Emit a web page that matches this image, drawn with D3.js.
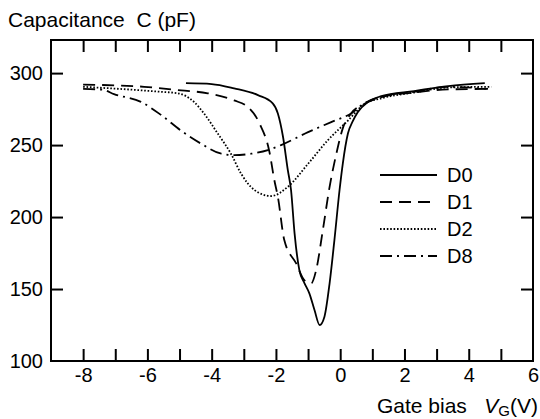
<!doctype html>
<html lang="en">
<head>
<meta charset="utf-8">
<title>Capacitance vs gate bias</title>
<script src="https://cdn.jsdelivr.net/npm/d3@7"></script>
<style>
  body { margin: 0; background: #fff; }
  svg text { font-family: "Liberation Sans", Arial, sans-serif; fill: #000; }
  .frame { fill: none; stroke: #000; stroke-width: 2; }
  .curve { fill: none; stroke: #000; stroke-width: 1.8; }
</style>
</head>
<body>
<svg id="chart" width="540" height="419"></svg>
<script>
// values: gate bias (V) and capacitance (pF)
var D0_V = [-4.8, -4.0, -3.3, -2.56, -2.1, -1.94, -1.78, -1.63, -1.53, -1.42, -1.27, -1.11, -0.96, -0.8, -0.64, -0.49, -0.33, -0.18, -0.02, 0.08, 0.24, 0.4, 0.55, 0.86, 1.28, 2.3, 3.36, 4.5];
var D0_C = [293, 292.4, 289.4, 284.7, 279, 272, 255.8, 232.6, 218.8, 188.7, 163, 154, 147, 135.4, 125, 130.8, 154, 184, 218.8, 237, 258, 267, 273, 280, 284, 287.5, 291, 293];

var D1_V = [-8, -6.1, -4.95, -4.12, -3.3, -2.88, -2.51, -2.2, -2.05, -1.94, -1.74, -1.37, -1.11, -0.9, -0.75, -0.54, -0.33, -0.12, 0.08, 0.34, 0.75, 1.28, 2.3, 3.36, 4.6];
var D1_C = [292, 290.5, 288, 286, 281, 276.6, 265, 245, 225.7, 214, 184, 167.8, 156, 154, 163, 191, 221, 244, 261.6, 272, 278.5, 283.3, 286.5, 288.7, 289];

var D2_V = [-8, -5.58, -5.06, -4.55, -4.24, -3.81, -3.4, -3.08, -2.67, -2.15, -1.63, -1.0, -0.38, 0.24, 0.75, 1.28, 2.3, 3.36, 4.7];
var D2_C = [290.5, 287, 286, 280, 272, 258, 244, 230, 218.8, 214.6, 221, 237, 253.5, 267, 278.5, 282.5, 286.5, 290, 290.5];

var D8_V = [-8, -7.4, -7.04, -6.2, -5.58, -4.95, -4.33, -3.7, -3.3, -2.77, -2.25, -1.84, -1.0, -0.28, 0.34, 0.75, 1.28, 2.3, 3.36, 4.6];
var D8_C = [289, 288.5, 285.4, 280, 271, 260, 251, 244, 243, 244, 246.5, 250, 259, 266, 272, 279, 283.5, 287, 290.5, 289];

var seriesNames = ["D0", "D1", "D2", "D8"];
var xTicks = [-8, -7, -6, -5, -4, -3, -2, -1, 0, 1, 2, 3, 4, 5];
var xLabels = [-8, -6, -4, -2, 0, 2, 4, 6];
var yTicks = [150, 200, 250, 300];
var yLabels = [100, 150, 200, 250, 300];

var svg = d3.select("#chart");
var plotL = 51, plotR = 533, plotT = 40, plotB = 361;
var tick = 12, fs = 20;

var x = d3.scaleLinear().domain([-9, 6]).range([plotL, plotR]);
var y = d3.scaleLinear().domain([100, 323]).range([plotB, plotT]);

// inward ticks on all four sides
svg.append("g").attr("transform", "translate(0," + plotB + ")")
  .call(d3.axisTop(x).tickValues(xTicks).tickSize(tick).tickFormat(""));
svg.append("g").attr("transform", "translate(0," + plotT + ")")
  .call(d3.axisBottom(x).tickValues(xTicks).tickSize(tick).tickFormat(""));
svg.append("g").attr("transform", "translate(" + plotL + ",0)")
  .call(d3.axisRight(y).tickValues(yTicks).tickSize(tick).tickFormat(""));
svg.append("g").attr("transform", "translate(" + plotR + ",0)")
  .call(d3.axisLeft(y).tickValues(yTicks).tickSize(tick).tickFormat(""));

// tick labels
svg.append("g").attr("class", "xlab").attr("transform", "translate(0," + plotB + ")")
  .call(d3.axisBottom(x).tickValues(xLabels).tickSize(0).tickPadding(7).tickFormat(d3.format("d")));
svg.append("g").attr("class", "ylab").attr("transform", "translate(" + plotL + ",0)")
  .call(d3.axisLeft(y).tickValues(yLabels).tickSize(0).tickPadding(8));

svg.selectAll("path.domain").remove();
svg.selectAll("g.tick line").attr("stroke", "#000").attr("stroke-width", 2);
svg.selectAll(".xlab text, .ylab text")
  .attr("font-family", "Liberation Sans, Arial, sans-serif")
  .attr("font-size", fs).attr("fill", "#000");
svg.selectAll(".xlab text").text(function(d) { return d < 0 ? "-" + (-d) : d; });

svg.append("rect").attr("class", "frame")
  .attr("x", plotL).attr("y", plotT).attr("width", plotR - plotL).attr("height", plotB - plotT);

// curves
var dashes = { D0: null, D1: "12,7", D2: "1.6,1.8", D8: "12,5,2,5" };
var allData = {
  D0: d3.zip(D0_V, D0_C),
  D1: d3.zip(D1_V, D1_C),
  D2: d3.zip(D2_V, D2_C),
  D8: d3.zip(D8_V, D8_C)
};
var line = d3.line()
  .x(function(d) { return x(d[0]); })
  .y(function(d) { return y(d[1]); })
  .curve(d3.curveMonotoneX);

seriesNames.forEach(function(name) {
  svg.append("path").attr("class", "curve")
    .attr("d", line(allData[name]))
    .attr("stroke-dasharray", dashes[name]);
});

// legend
var lg = svg.append("g");
seriesNames.forEach(function(name, i) {
  var ly = 175 + i * 27;
  lg.append("line").attr("class", "curve")
    .attr("x1", 380).attr("x2", 437).attr("y1", ly).attr("y2", ly)
    .attr("stroke-dasharray", dashes[name]);
  lg.append("text").attr("x", 447).attr("y", ly).attr("dy", "0.36em")
    .attr("font-size", fs).text(name);
});

// axis titles
svg.append("text").attr("x", 8).attr("y", 27).attr("font-size", 21)
  .attr("xml:space", "preserve").text("Capacitance  C (pF)");

var xt = svg.append("text").attr("x", 538).attr("y", 413)
  .attr("font-size", 21).attr("text-anchor", "end").attr("xml:space", "preserve");
xt.append("tspan").text("Gate bias   ");
xt.append("tspan").attr("font-style", "italic").text("V");
xt.append("tspan").attr("font-size", 15).attr("dy", 3).text("G");
xt.append("tspan").attr("dy", -3).text("(V)");
</script>
</body>
</html>
